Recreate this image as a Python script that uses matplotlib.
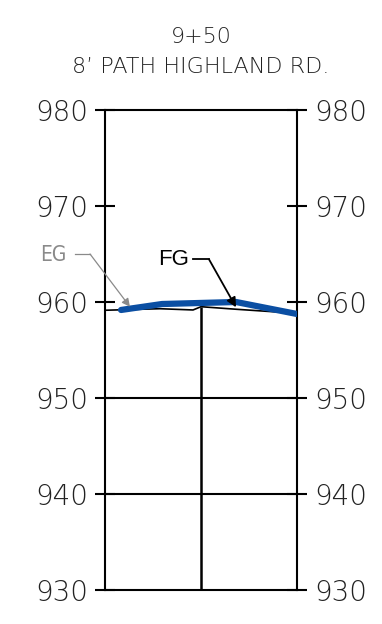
import matplotlib
matplotlib.use("Agg")
import matplotlib.pyplot as plt

# Data
title_station = "9+50"
title_name = "8’ PATH HIGHLAND RD."
elev_ticks = [930, 940, 950, 960, 970, 980]
grid_elevs = [940, 950]
eg_offset = [-10.0, -4.27, -0.83, 0.0, 3.72, 10.0]
eg_elev = [959.14, 959.30, 959.17, 959.51, 959.24, 958.82]
fg_offset = [-8.33, -4.06, 3.65, 10.0]
fg_elev = [959.17, 959.79, 960.00, 958.75]
x_range = [-10, 10]
y_range = [930, 980]

fig = plt.figure(figsize=(3.82, 6.24), dpi=100)
ax = fig.add_axes([105/382, 34/624, 192/382, 480/624])
ax.set_xlim(*x_range)
ax.set_ylim(*y_range)

for s in ax.spines.values():
    s.set_linewidth(1.5)
    s.set_color("black")

ax.set_xticks([])
ax.set_yticks(elev_ticks)
ax.set_yticklabels([str(v) for v in elev_ticks])
ax.tick_params(axis="y", direction="inout", length=14.4, width=1.5,
               left=True, right=True, labelleft=True, labelright=True,
               pad=5, labelsize=20, colors="black")
for lbl in ax.get_yticklabels():
    lbl.set_fontweight(200)
    lbl.set_color("#222222")

for g in grid_elevs:
    ax.axhline(g, color="black", lw=1.5)

# center line from ground down
ax.vlines(0, y_range[0], eg_elev[eg_offset.index(0.0)], color="black", lw=1.8)

# existing ground
ax.plot(eg_offset, eg_elev, color="black", lw=1.2, zorder=3)
# finished grade
ax.plot(fg_offset, fg_elev, color="#0b4fa3", lw=4.5, solid_capstyle="round",
        solid_joinstyle="round", zorder=4)

# EG label
ax.text(-13.96, 964.9, "EG", ha="right", va="center", fontsize=15,
        color="#8a8a8a", family="DejaVu Sans", fontweight=200,
        fontstretch="condensed", clip_on=False)
ax.plot([-13.1, -11.56], [965.0, 965.0], color="#8a8a8a", lw=0.9, clip_on=False)
ax.annotate("", xy=(-7.4, 959.5), xytext=(-11.56, 965.0),
            arrowprops=dict(arrowstyle="-|>", color="#8a8a8a", lw=0.9,
                            mutation_scale=12, shrinkA=0, shrinkB=0),
            annotation_clip=False, zorder=5)

# FG label
ax.text(-1.3, 964.45, "FG", ha="right", va="center", fontsize=16,
        color="black", family="Liberation Sans", clip_on=False)
ax.plot([-0.86, 0.83], [964.45, 964.45], color="black", lw=1.3)
ax.annotate("", xy=(3.65, 959.45), xytext=(0.83, 964.45),
            arrowprops=dict(arrowstyle="-|>", color="black", lw=1.3,
                            mutation_scale=14, shrinkA=0, shrinkB=0),
            annotation_clip=False, zorder=5)

# titles
ax.text(0, 987.6, title_station, ha="center", va="center", fontsize=16,
        color="#222222", family="DejaVu Sans", fontweight=200, clip_on=False)
ax.text(0, 984.5, title_name, ha="center", va="center", fontsize=16,
        color="#222222", family="DejaVu Sans", fontweight=200, clip_on=False)

fig.savefig("out.png", dpi=100)
